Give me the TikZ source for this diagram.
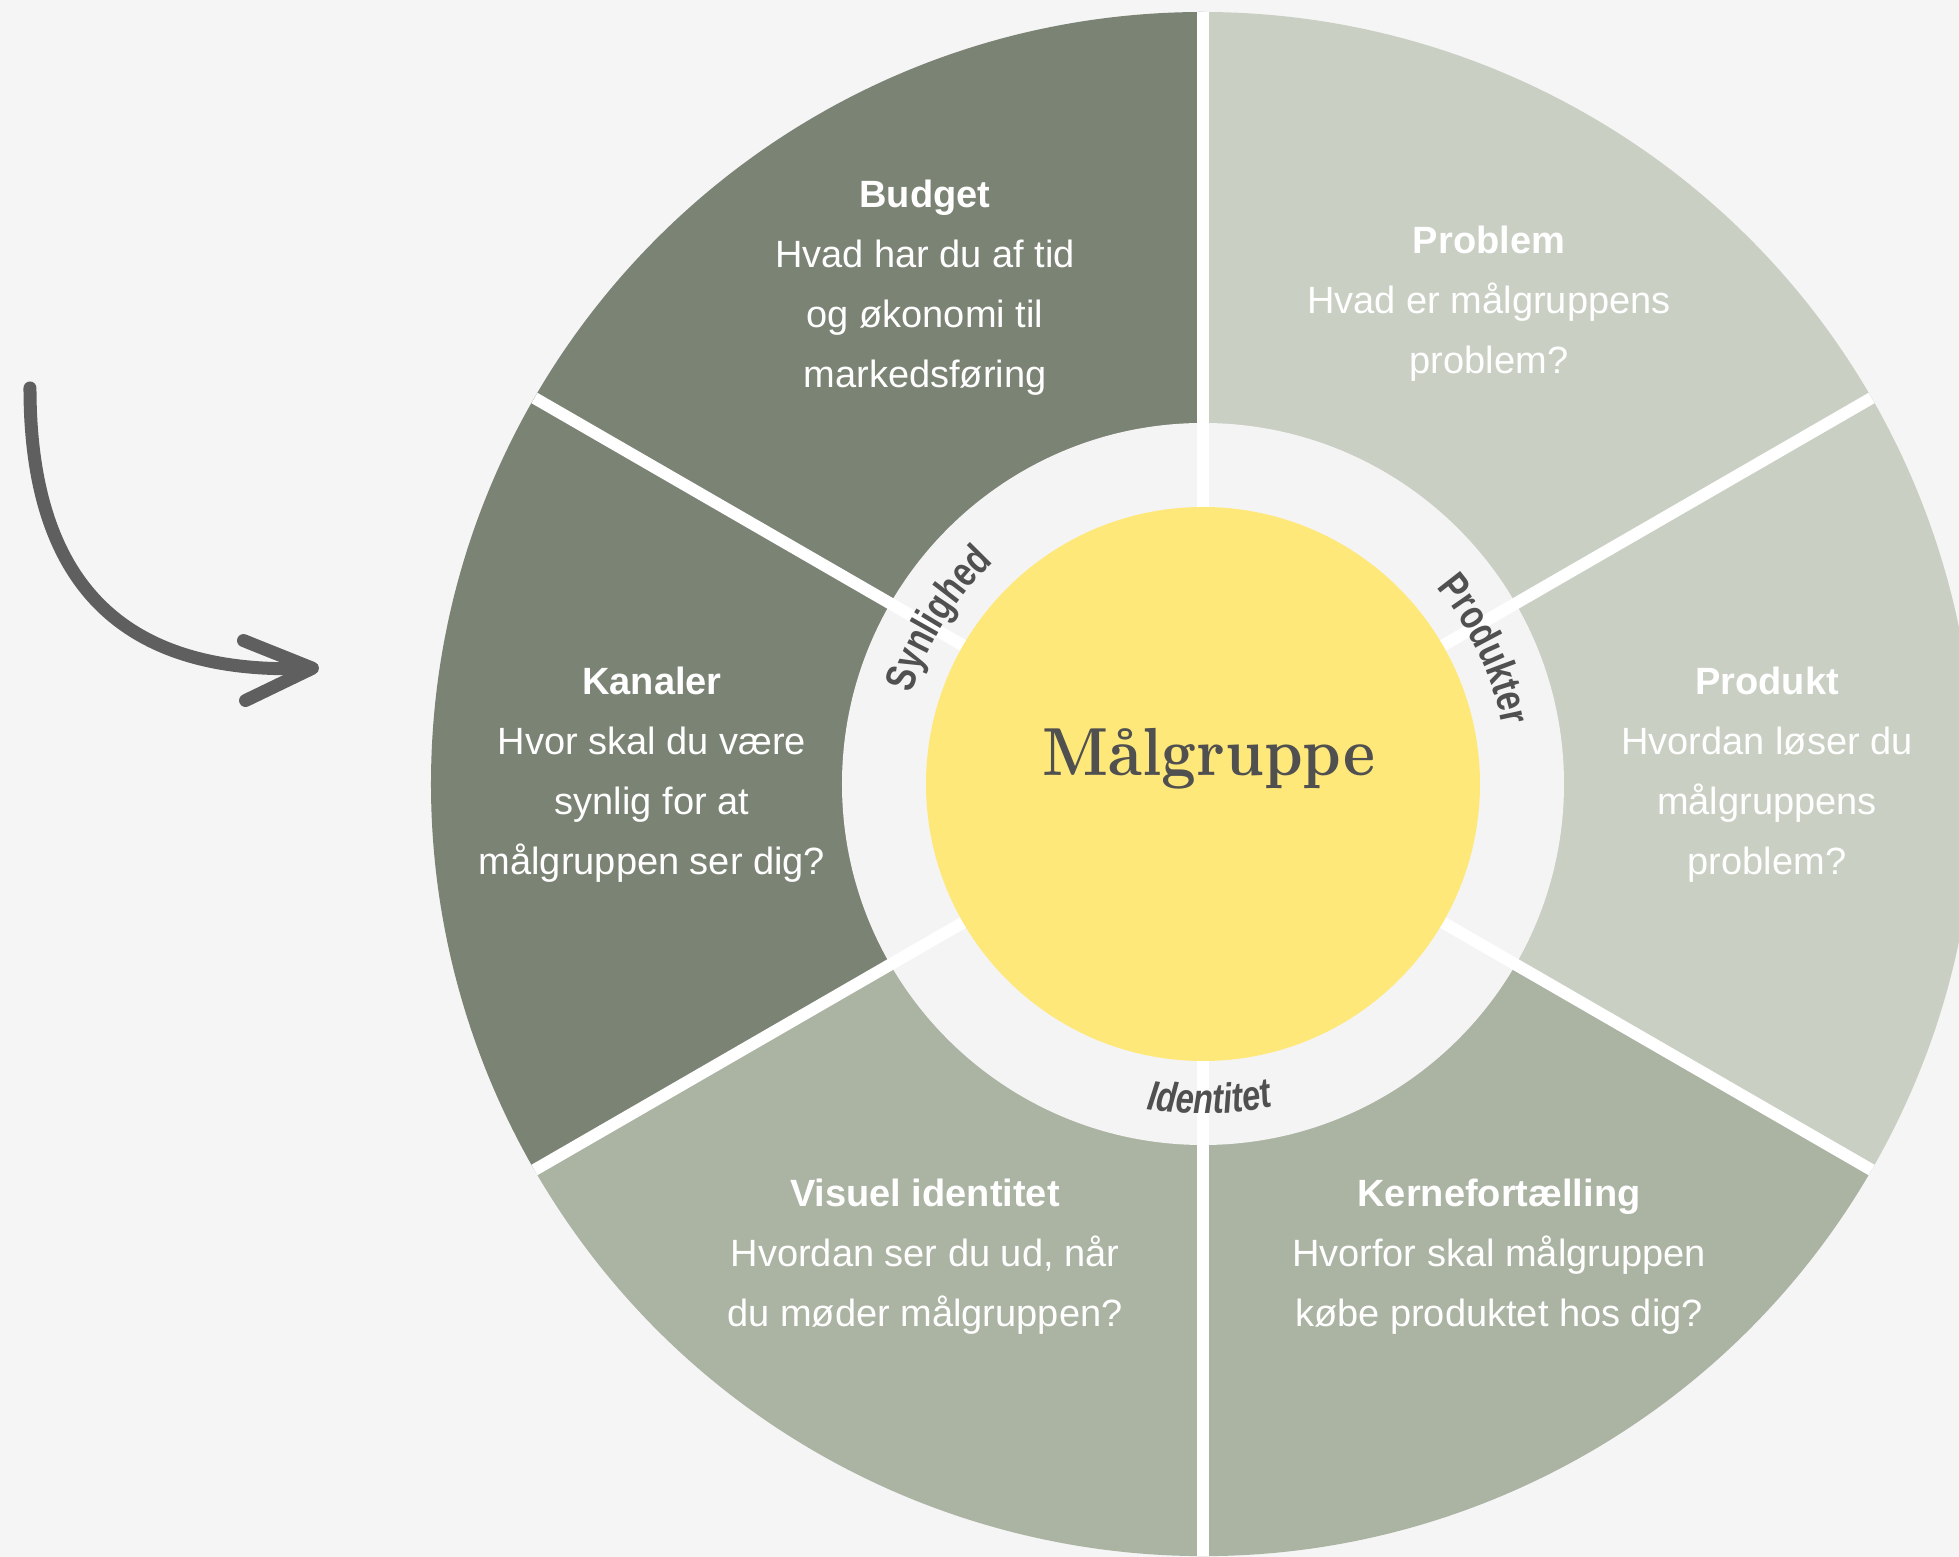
\documentclass[tikz,border=0pt]{standalone}
\usepackage{fontspec}
\usepackage{graphicx}
\usetikzlibrary{arrows.meta,decorations.text}

\newfontfamily\bodyfont{Liberation Sans}
\newfontfamily\ringfont[FakeStretch=0.78]{Liberation Sans}
\newfontfamily\titlefont{lmroman10-bold}[Extension=.otf]

\definecolor{bgcolor}{HTML}{F5F5F5}
\definecolor{segdark}{HTML}{7B8374}
\definecolor{seglight}{HTML}{C9CFC3}
\definecolor{segmid}{HTML}{ABB4A3}
\definecolor{ringcolor}{HTML}{F4F4F4}
\definecolor{coreyellow}{HTML}{FFE87A}
\definecolor{labelgray}{HTML}{505050}
\definecolor{arrowgray}{HTML}{5F5F5F}

\tikzset{
  segtext/.style = {
    align         = center,     % lines centred
    inner sep     = 0pt,        % sep b/w border and inner text
    font          = \bodyfont\fontsize{19}{30}\selectfont,%
    text          = white,      % inner label color
  },
  ringlabel/.style = {
    decorate,
    decoration    = {text along path, text align = center,
                     text color = labelgray},
  },
}

\begin{document}
\begin{tikzpicture}[x=0.5pt, y=0.5pt]
\useasboundingbox (-1203, -773) rectangle (756, 784);
\clip (-1203, -773) rectangle (756, 784);
\fill [bgcolor] (-1203, -773) rectangle (756, 784);

% wheel: three colour sectors
\foreach \start/\col in {90/segdark, -30/seglight, 210/segmid}
  \fill [\col] (0, 0) -- (\start:772)
    arc [start angle = \start, delta angle = 120, radius = 772] -- cycle;
\fill [ringcolor] (0, 0) circle [radius = 361];
\foreach \a in {30, 90, ..., 330}
  \draw [white, line width = 6pt] (0, 0) -- (\a:772);
\node at (0, 0) [
  circle,
  fill          = coreyellow,
  minimum size  = 277pt,        % 554 px across
  inner sep     = 0pt,
  ]
  (core) {} ;

% ring labels
\path [ringlabel, decoration = {text = {|\ringfont\bfseries\fontsize{21}{22}\selectfont|Synlighed}}]
  (188:305) arc [start angle = 188, end angle = 108, radius = 305];
\path [ringlabel, decoration = {text = {|\ringfont\bfseries\fontsize{21}{22}\selectfont|Produkter}}]
  (65.5:305) arc [start angle = 65.5, end angle = -14.5, radius = 305];
\path [ringlabel, decoration = {text = {|\ringfont\bfseries\itshape\fontsize{21}{22}\selectfont|Identitet}}]
  (-128.8:330) arc [start angle = -128.8, end angle = -48.8, radius = 330];

% centre title
\node at (6, 8) [
  anchor        = base,
  inner sep     = 0pt,
  font          = \titlefont\fontsize{34}{36}\selectfont,%
  text          = labelgray,
  ]
  (title) {\scalebox{0.89}[1]{Målgruppe}} ;

% segment texts
\node at (-278, 496.5) [segtext] (budget)
  {\textbf{Budget}\\Hvad har du af tid\\og økonomi til\\markedsføring} ;
\node at (286, 480) [segtext] (problem)
  {\textbf{Problem}\\Hvad er målgruppens\\problem?} ;
\node at (-551, 9) [segtext] (kanaler)
  {\textbf{Kanaler}\\Hvor skal du være\\synlig for at\\målgruppen ser dig?} ;
\node at (564, 9) [segtext] (produkt)
  {\textbf{Produkt}\\Hvordan løser du\\målgruppens\\problem?} ;
\node at (-278, -473) [segtext] (visuel)
  {\textbf{Visuel identitet}\\Hvordan ser du ud, når\\du møder målgruppen?} ;
\node at (296, -473) [segtext] (kerne)
  {\textbf{Kernefortælling}\\Hvorfor skal målgruppen\\købe produktet hos dig?} ;

% hand drawn arrow
\coordinate (arrowtail) at (-1173, 396);
\coordinate (arrowtip)  at (-884, 116);
\draw [arrowgray, line width = 6.5pt, line cap = round,
       -{Straight Barb[length = 34pt, width = 30pt, round]}]
  (arrowtail) .. controls (-1173, 180) and (-1060, 110) .. (arrowtip);
\end{tikzpicture}
\end{document}
